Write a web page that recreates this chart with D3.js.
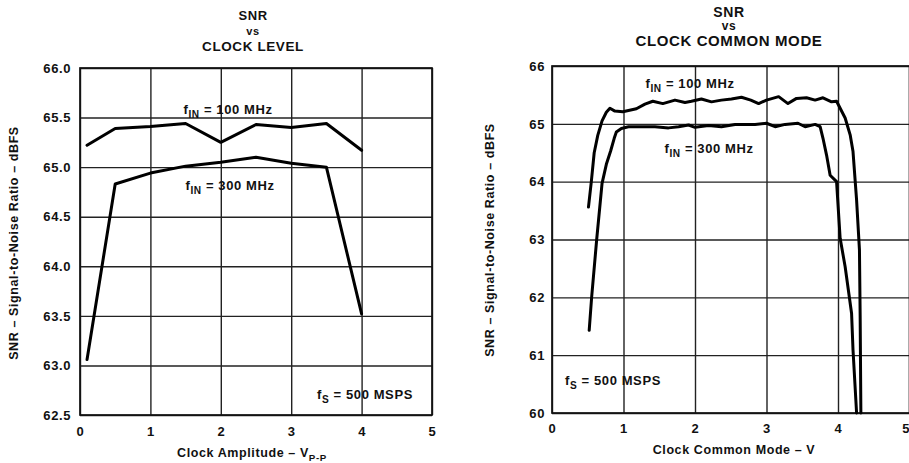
<!DOCTYPE html>
<html>
<head>
<meta charset="utf-8">
<script src="https://cdn.jsdelivr.net/npm/d3@7"></script>
<style>
  html, body { margin: 0; padding: 0; background: #fff; }
  svg { display: block; }
  text { font-family: 'Liberation Sans', Arial, Helvetica, sans-serif; font-weight: bold; fill: #111; letter-spacing: 0.6px; }
</style>
</head>
<body>
<svg id="chart" width="909" height="463"></svg>
<script>
// ---------------- DATA ----------------
// Left panel: SNR vs Clock Level
const leftXTicks = [0, 1, 2, 3, 4, 5];
const leftYTicks = [62.5, 63.0, 63.5, 64.0, 64.5, 65.0, 65.5, 66.0];
const leftAmplitude = [0.1, 0.5, 1.0, 1.5, 2.0, 2.5, 3.0, 3.5, 4.0];
const left100MHz = [65.22, 65.39, 65.41, 65.44, 65.25, 65.43, 65.40, 65.44, 65.17];
const left300MHz = [63.06, 64.83, 64.94, 65.01, 65.05, 65.10, 65.04, 65.00, 63.52];

// Right panel: SNR vs Clock Common Mode
const rightXTicks = [0, 1, 2, 3, 4, 5];
const rightYTicks = [60, 61, 62, 63, 64, 65, 66];
const right100X = [0.51, 0.55, 0.59, 0.64, 0.70, 0.76, 0.81, 0.88, 0.99, 1.18, 1.30, 1.41, 1.55, 1.72, 1.86, 1.95, 2.09, 2.23, 2.37, 2.51, 2.65, 2.78, 2.89, 3.00, 3.17, 3.30, 3.42, 3.56, 3.68, 3.79, 3.91, 3.98, 4.10, 4.17, 4.21, 4.26, 4.30, 4.31, 4.32];
const right100Y = [63.56, 64.00, 64.50, 64.80, 65.05, 65.20, 65.27, 65.22, 65.21, 65.26, 65.34, 65.39, 65.35, 65.41, 65.37, 65.39, 65.43, 65.38, 65.41, 65.43, 65.46, 65.41, 65.35, 65.41, 65.47, 65.35, 65.44, 65.45, 65.41, 65.45, 65.38, 65.39, 65.10, 64.81, 64.52, 63.68, 62.82, 61.66, 60.00];
const right300X = [0.52, 0.555, 0.625, 0.70, 0.76, 0.82, 0.87, 0.90, 0.97, 1.07, 1.25, 1.44, 1.63, 1.77, 1.91, 2.00, 2.19, 2.37, 2.56, 2.65, 2.84, 3.00, 3.12, 3.26, 3.44, 3.54, 3.68, 3.75, 3.79, 3.84, 3.89, 3.98, 4.03, 4.10, 4.19, 4.21, 4.26];
const right300Y = [61.43, 62.01, 63.00, 63.97, 64.30, 64.53, 64.75, 64.86, 64.92, 64.95, 64.95, 64.95, 64.93, 64.95, 64.98, 64.94, 64.97, 64.95, 64.99, 64.99, 64.99, 65.01, 64.95, 64.99, 65.01, 64.95, 64.99, 64.95, 64.75, 64.46, 64.11, 64.00, 63.02, 62.53, 61.72, 61.09, 60.00];

// Text
const leftTitle = ["SNR", "vs", "CLOCK LEVEL"];
const rightTitle = ["SNR", "vs", "CLOCK COMMON MODE"];
const yAxisTitle = "SNR – Signal-to-Noise Ratio – dBFS";

// ---------------- DRAW ----------------
const svg = d3.select("#chart");

function zip(xs, ys) { return xs.map((x, i) => ({ x: x, y: ys[i] })); }

function richText(g, x, y, parts, size, anchor) {
  const t = g.append("text").attr("x", x).attr("y", y)
    .attr("text-anchor", anchor || "middle").attr("font-size", size);
  parts.forEach(p => {
    const ts = t.append("tspan").text(p.t);
    if (p.sub) ts.attr("font-size", size * 0.78).attr("dy", size * 0.3);
    else if (p.after) ts.attr("dy", -size * 0.3);
  });
  return t;
}

function labelWithBg(g, x, y, parts, size, bg) {
  const t = richText(g, x, y, parts, size, "middle");
  if (bg) {
    const b = t.node().getBBox();
    g.insert("rect", "text").attr("x", b.x - 3).attr("y", b.y - 1)
      .attr("width", b.width + 6).attr("height", b.height + 2).attr("fill", "#fff");
  }
  return t;
}

function panel(cfg) {
  const g = svg.append("g");
  const x = d3.scaleLinear().domain(cfg.xDomain).range([cfg.left, cfg.right]);
  const y = d3.scaleLinear().domain(cfg.yDomain).range([cfg.bottom, cfg.top]);
  const W = cfg.right - cfg.left, H = cfg.bottom - cfg.top;

  // title
  cfg.title.forEach((s, i) => {
    g.append("text").attr("x", cfg.titleX).attr("y", cfg.titleY[i])
      .attr("text-anchor", "middle").attr("font-size", cfg.titleSize[i]).text(s);
  });

  // grid
  g.append("g").attr("transform", `translate(0,${cfg.bottom})`)
    .call(d3.axisBottom(x).tickValues(cfg.xTicks).tickSize(-H).tickFormat(""))
    .call(a => a.select(".domain").remove())
    .call(a => a.selectAll("line").attr("stroke", "#222").attr("stroke-width", 1.4));
  g.append("g").attr("transform", `translate(${cfg.left},0)`)
    .call(d3.axisLeft(y).tickValues(cfg.yTicks).tickSize(-W).tickFormat(""))
    .call(a => a.select(".domain").remove())
    .call(a => a.selectAll("line").attr("stroke", "#222").attr("stroke-width", 1.4));

  // frame
  g.append("rect").attr("x", cfg.left).attr("y", cfg.top).attr("width", W).attr("height", H)
    .attr("fill", "none").attr("stroke", "#111").attr("stroke-width", 1.7);

  // tick labels
  const xl = g.append("g").attr("transform", `translate(0,${cfg.bottom})`)
    .call(d3.axisBottom(x).tickValues(cfg.xTicks).tickSize(0).tickPadding(cfg.xPad).tickFormat(d3.format("d")));
  xl.select(".domain").remove();
  xl.selectAll("text").attr("font-size", 13).attr("font-family", null).attr("fill", "#111");
  if (cfg.lastTickEnd) {
    xl.selectAll(".tick").filter(d => d === cfg.xDomain[1]).select("text")
      .attr("text-anchor", "end").attr("x", 0);
  }
  const yl = g.append("g").attr("transform", `translate(${cfg.left},0)`)
    .call(d3.axisLeft(y).tickValues(cfg.yTicks).tickSize(0).tickPadding(cfg.yPad).tickFormat(d3.format(cfg.yFmt)));
  yl.select(".domain").remove();
  yl.selectAll("text").attr("font-size", 13).attr("font-family", null).attr("fill", "#111");

  // axis titles
  richText(g, cfg.xTitleX, cfg.xTitleY, cfg.xTitle, 12.5, "middle");
  g.append("text").attr("transform", `translate(${cfg.yTitleX},${cfg.yTitleY}) rotate(-90)`)
    .attr("text-anchor", "middle").attr("font-size", 12.5).text(yAxisTitle);

  // in-plot labels
  cfg.labels.forEach(l => labelWithBg(g, l.x, l.y, l.parts, 13, l.bg));

  // series
  const line = d3.line().x(d => x(d.x)).y(d => y(d.y));
  cfg.series.forEach(s => {
    g.append("path").datum(s).attr("d", line).attr("fill", "none")
      .attr("stroke", "#000").attr("stroke-width", 3)
      .attr("stroke-linejoin", "round").attr("stroke-linecap", "round");
  });
}

const fin = n => [{ t: "f" }, { t: "IN", sub: true }, { t: " = " + n + " MHz", after: true }];
const fs = [{ t: "f" }, { t: "S", sub: true }, { t: " = 500 MSPS", after: true }];

panel({
  left: 80, right: 432, top: 68, bottom: 415,
  xDomain: [0, 5], yDomain: [62.5, 66.0],
  xTicks: leftXTicks, yTicks: leftYTicks, yFmt: ".1f",
  xPad: 12, yPad: 9,
  title: leftTitle, titleX: 253, titleY: [20, 35, 51], titleSize: [13, 11, 13.5],
  xTitle: [{ t: "Clock Amplitude – V" }, { t: "P-P", sub: true }],
  xTitleX: 252, xTitleY: 457,
  yTitleX: 18, yTitleY: 243,
  labels: [
    { x: 228, y: 114, parts: fin(100), bg: true },
    { x: 230, y: 190, parts: fin(300), bg: true },
    { x: 365, y: 399, parts: fs, bg: true }
  ],
  series: [zip(leftAmplitude, left100MHz), zip(leftAmplitude, left300MHz)]
});

panel({
  left: 552, right: 909.5, top: 66, bottom: 413,
  xDomain: [0, 5], yDomain: [60, 66],
  xTicks: rightXTicks, yTicks: rightYTicks, yFmt: "d",
  xPad: 11, yPad: 7,
  lastTickEnd: true,
  title: rightTitle, titleX: 729, titleY: [17, 30, 46], titleSize: [14, 12, 15],
  xTitle: [{ t: "Clock Common Mode – V" }],
  xTitleX: 734, xTitleY: 454,
  yTitleX: 494, yTitleY: 240,
  labels: [
    { x: 690, y: 88, parts: fin(100), bg: true },
    { x: 709, y: 153, parts: fin(300), bg: true },
    { x: 613, y: 385, parts: fs, bg: false }
  ],
  series: [zip(right100X, right100Y), zip(right300X, right300Y)]
});
</script>
</body>
</html>
